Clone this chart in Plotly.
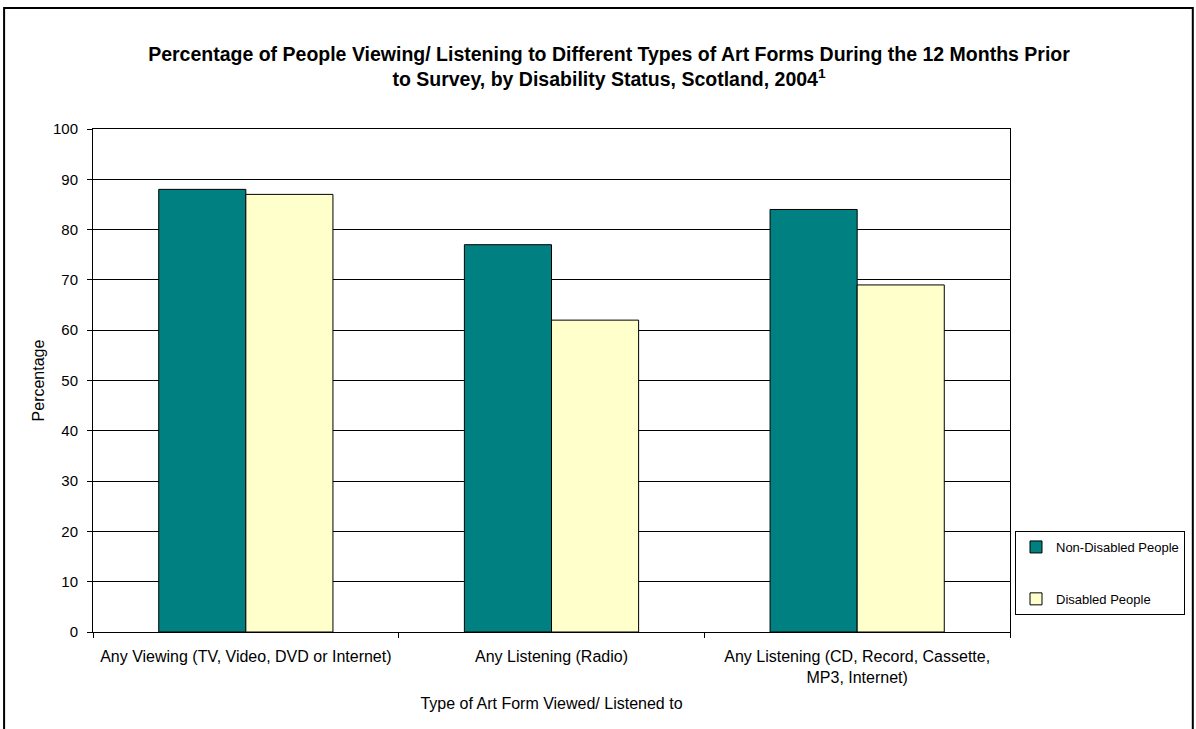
import plotly.graph_objects as go

categories = ["Any Viewing (TV, Video, DVD or Internet)",
              "Any Listening (Radio)",
              "Any Listening (CD, Record, Cassette,<br>MP3, Internet)"]
non_disabled = [88, 77, 84]
disabled = [87, 62, 69]
y_ticks = list(range(0, 101, 10))

W, H = 1196, 729
L, R, T, B = 93, 1011, 129, 632
pw, ph = R - L, B - T


def px_x(x):
    return (x - L) / pw


def px_y(y):
    return (B - y) / ph


fig = go.Figure()
fig.add_trace(go.Bar(x=categories, y=non_disabled, name="Non-Disabled People",
                     marker=dict(color="#008080", line=dict(color="black", width=1)),
                     legendgroup="a"))
fig.add_trace(go.Bar(x=categories, y=disabled, name="Disabled People",
                     marker=dict(color="#FFFFCC", line=dict(color="black", width=1)),
                     legendgroup="b"))

FONT = "Arial, Liberation Sans, sans-serif"

fig.update_layout(
    width=W, height=H,
    margin=dict(l=L, r=W - R, t=T, b=H - B, pad=0),
    paper_bgcolor="white", plot_bgcolor="white",
    font=dict(family=FONT, size=15, color="black"),
    barmode="group", bargap=0.43, bargroupgap=0,
    title=dict(text="<b>Percentage of People Viewing/ Listening to Different Types of Art Forms During the 12 Months Prior<br>to Survey, by Disability Status, Scotland, 2004<sup>1</sup></b>",
               x=609 / W, xref="container", xanchor="center",
               y=1 - 61 / H, yref="container", yanchor="middle",
               font=dict(size=19.5, family=FONT)),
    showlegend=True,
    legend=dict(x=px_x(1015), y=px_y(531), xanchor="left", yanchor="top",
                bordercolor="black", borderwidth=1, bgcolor="white",
                traceorder="grouped", tracegroupgap=32,
                font=dict(size=13), itemwidth=30),
    xaxis=dict(showline=True, linecolor="black", linewidth=1, mirror=True,
               ticks="outside", ticklen=5, tickcolor="black", tickson="boundaries",
               tickfont=dict(size=16), ticklabelstandoff=10,
               title=dict(text="Type of Art Form Viewed/ Listened to", standoff=12,
                          font=dict(size=16))),
    yaxis=dict(range=[0, 100], tickvals=y_ticks, showline=True, linecolor="black",
               linewidth=1, mirror=True, ticks="outside", ticklen=5, tickcolor="black",
               showgrid=True, gridcolor="black", gridwidth=1, zeroline=False,
               tickfont=dict(size=15), ticklabelstandoff=6,
               title=dict(text="Percentage", standoff=4, font=dict(size=16))),
)

# outer chart frame
fig.add_shape(type="rect", xref="paper", yref="paper",
              x0=px_x(4), x1=px_x(1194), y0=px_y(760), y1=px_y(8),
              line=dict(color="black", width=2), fillcolor="rgba(0,0,0,0)", layer="below")

fig.write_html("out.html", config={"displayModeBar": False},
               post_script="document.body.style.margin='0';")
